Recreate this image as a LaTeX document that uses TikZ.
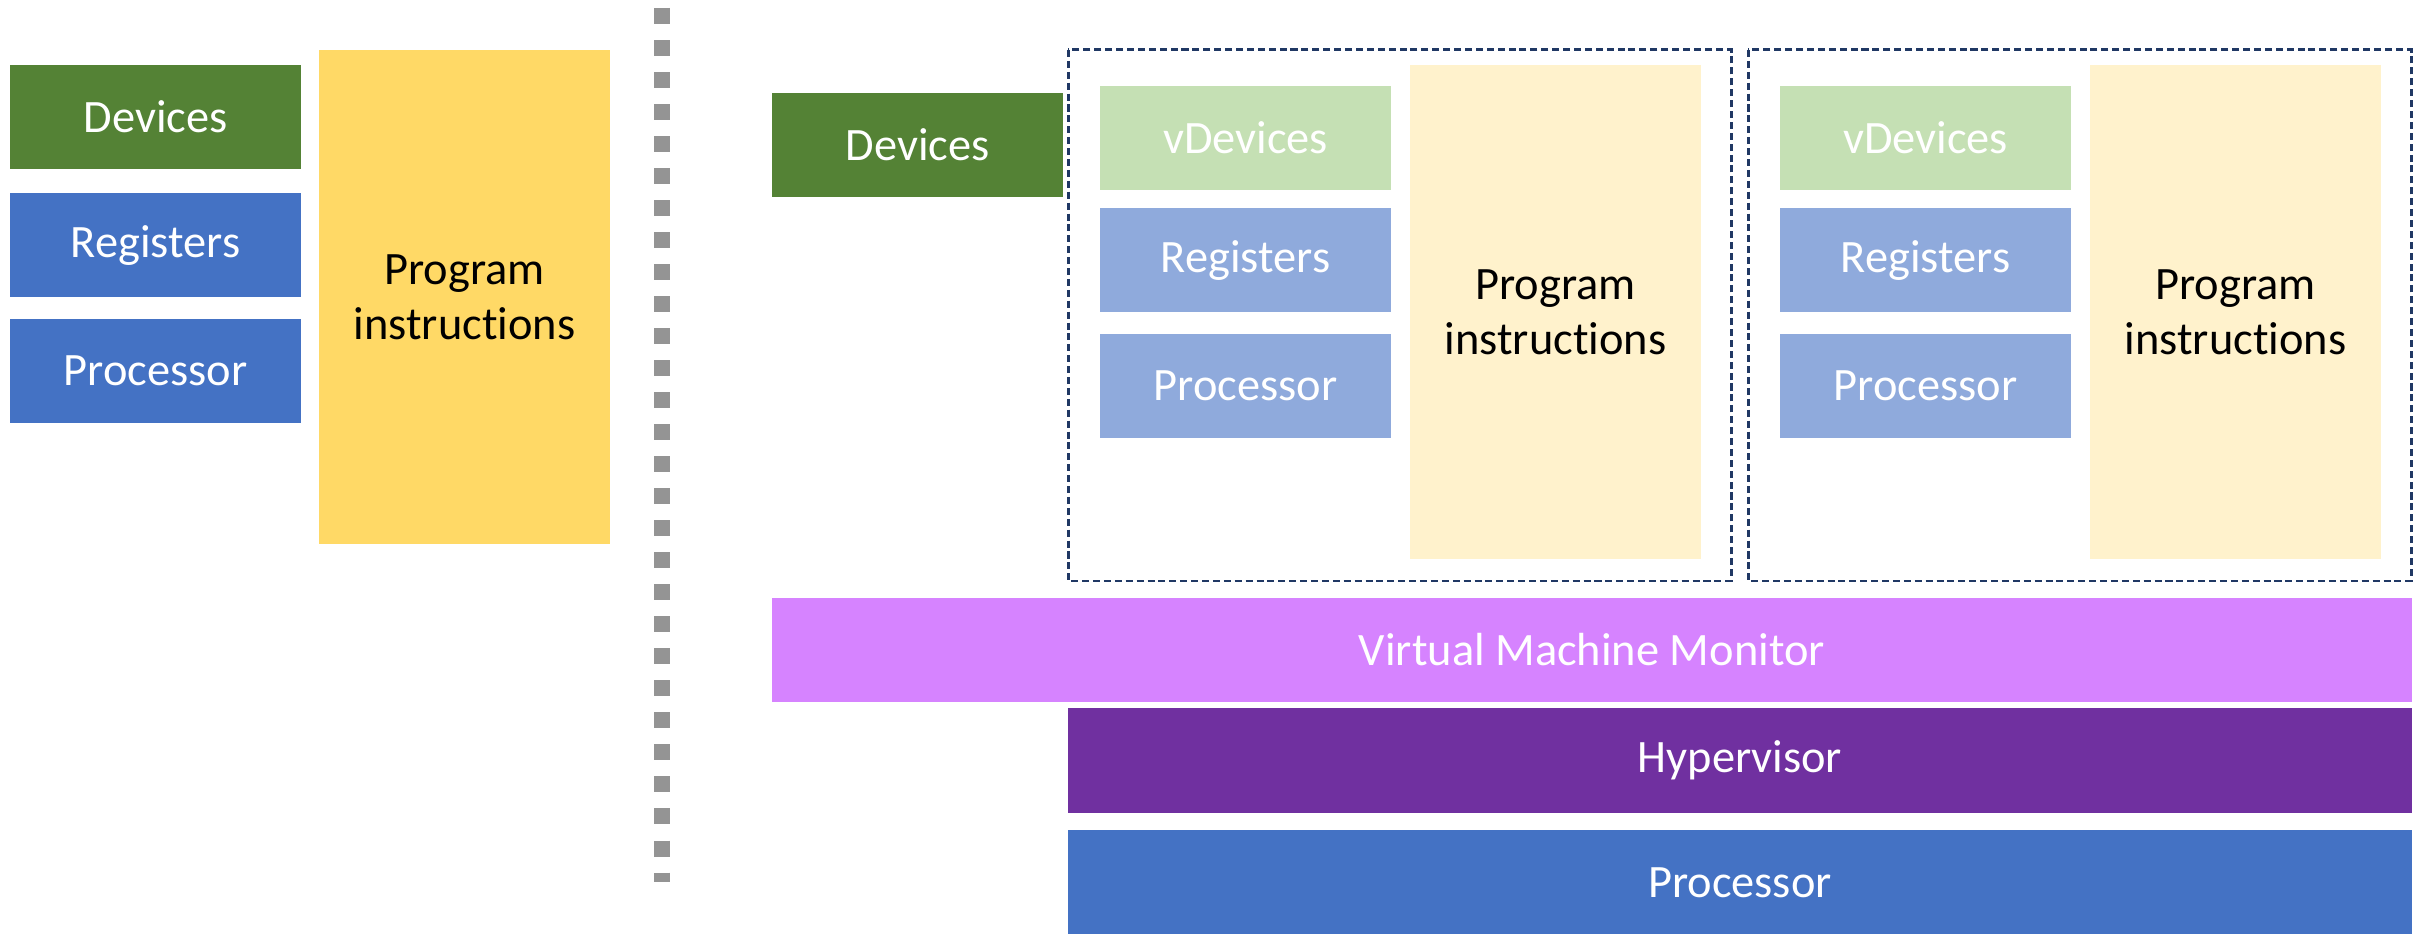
\documentclass[tikz,border=0pt]{standalone}
\usepackage{fontspec}
\setmainfont{Carlito}[Ligatures={NoCommon}]
\usepackage{xcolor}
\usepackage{tikz}
\usetikzlibrary{positioning}

\definecolor{devgreen}{HTML}{548235}
\definecolor{cpublue}{HTML}{4472C4}
\definecolor{progyellow}{HTML}{FFD966}
\definecolor{vdevgreen}{HTML}{C5E0B4}
\definecolor{vcpublue}{HTML}{8FAADC}
\definecolor{vprogyellow}{HTML}{FFF2CC}
\definecolor{vmmpink}{HTML}{D683FF}
\definecolor{hyppurple}{HTML}{7030A0}
\definecolor{vmnavy}{HTML}{203864}
\definecolor{sepgray}{HTML}{949494}

\begin{document}
\begin{tikzpicture}[x=0.01cm,y=-0.01cm,
  block/.style={anchor=north west,inner sep=0pt,outer sep=0pt,
    minimum width=2.91cm,minimum height=1.04cm,text=white,
    font=\fontsize{13.2pt}{15.6pt}\selectfont,align=center},
  tallblock/.style={block,minimum height=4.94cm,text=black},
  layer/.style={block,minimum width=13.43cm,minimum height=1.05cm},
  vmbox/.style={draw=vmnavy,line width=0.85pt,dash pattern=on 2pt off 1.1pt},
  separator/.style={draw=sepgray,line width=0.16cm,dash pattern=on 0.16cm off 0.16cm}]

\useasboundingbox (0,0) rectangle (2425,934);

% Plain machine
\node[block,fill=devgreen] (devL) at (10,65) {Devices};
\node[block,fill=cpublue] (regL) at (10,193) {Registers};
\node[block,fill=cpublue] (procL) at (10,319) {Processor};
\node[tallblock,fill=progyellow] (progL) at (319,50) {Program\\instructions};

% Separator
\coordinate (sepTop) at (662,8);
\coordinate (sepBot) at (662,882);
\draw[separator] (sepTop) -- (sepBot);

% Physical devices
\node[block,fill=devgreen] (devR) at (772,93) {Devices};

% Virtual machines
\foreach \i/\x in {1/1068,2/1748} {
  \draw[vmbox] (\x,50) rectangle ++(663,531);
  \node[block,fill=vdevgreen] (vdev\i) at (\x+32,86) {vDevices};
  \node[block,fill=vcpublue] (vreg\i) at (\x+32,208) {Registers};
  \node[block,fill=vcpublue] (vproc\i) at (\x+32,334) {Processor};
  \node[tallblock,fill=vprogyellow] (vprog\i) at (\x+342,65) {Program\\instructions};
}

% Layers underneath
\node[block,fill=vmmpink,minimum width=16.39cm] (vmm) at (772,598) {Virtual Machine Monitor};
\node[layer,fill=hyppurple] (hyp) at (1068,708) {Hypervisor};
\node[layer,fill=cpublue] (cpu) at (1068,830) {Processor};
\end{tikzpicture}
\end{document}
